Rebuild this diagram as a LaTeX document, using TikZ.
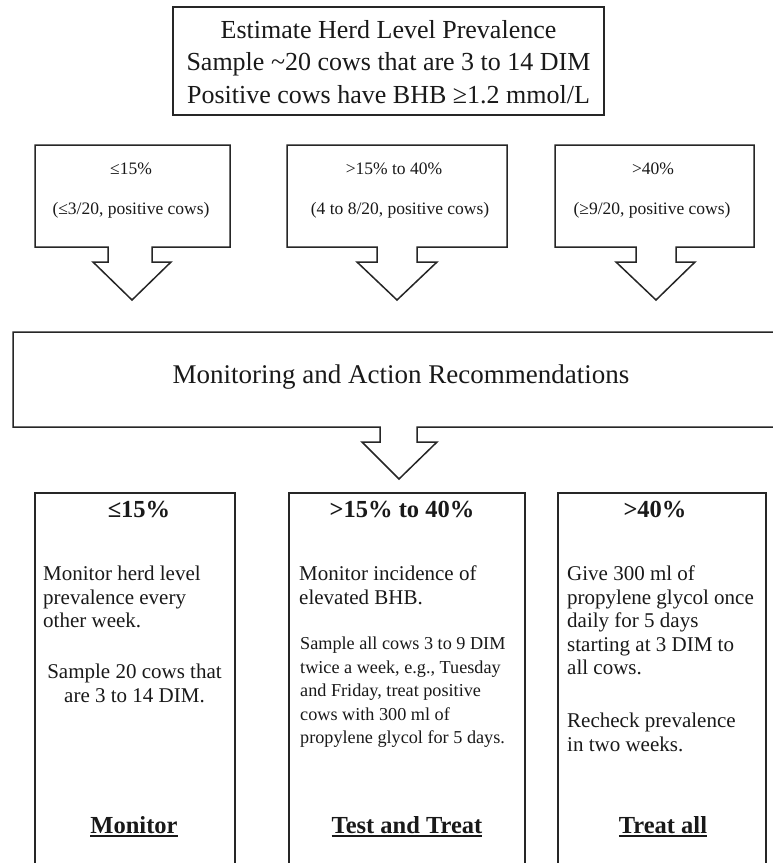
\documentclass[tikz,border=0pt]{standalone}
\usepackage{fontspec}
\setmainfont{Liberation Serif}
\newcommand\myul[1]{\setbox0\hbox{#1}\rlap{\rule[-3.5pt]{\wd0}{1.8pt}}\box0}
\begin{document}
\begin{tikzpicture}[x=1pt,y=-1pt,
  shp/.style={draw=black!85, line width=1.5pt, line join=miter},
  txt/.style={inner sep=0pt, text=black!90},
  topfont/.style={font=\fontsize{26}{32.5}\selectfont},
  callfont/.style={font=\fontsize{17.5}{21}\selectfont},
  midfont/.style={font=\fontsize{27}{32}\selectfont},
  headfont/.style={font=\fontsize{24.5}{28}\selectfont\bfseries},
  bodyfont/.style={font=\fontsize{21}{23.4}\selectfont},
  smallfont/.style={font=\fontsize{18.2}{23.5}\selectfont}]
\useasboundingbox (0,0) rectangle (773,863);
\clip (0,0) rectangle (773,863);
\fill[white] (0,0) rectangle (773,863);

% top box
\draw[shp] (173,7) rectangle (604,115);
\node[txt,topfont,align=center] (top) at (388.5,62) {Estimate Herd Level Prevalence\\Sample \textasciitilde20 cows that are 3 to 14 DIM\\Positive cows have BHB ≥1.2 mmol/L};

% callouts
\draw[shp] (35,145) -- (230,145) -- (230,247) -- (152,247) -- (152,262) -- (171,262) -- (132,300) -- (93,262) -- (108,262) -- (108,247) -- (35,247) -- cycle;
\draw[shp] (287,145) -- (507,145) -- (507,247) -- (417,247) -- (417,262) -- (437,262) -- (397,300) -- (357,262) -- (377,262) -- (377,247) -- (287,247) -- cycle;
\draw[shp] (555,145) -- (754,145) -- (754,247) -- (676,247) -- (676,262) -- (695,262) -- (656,300) -- (616,262) -- (636,262) -- (636,247) -- (555,247) -- cycle;
\node[txt,callfont] (c1a) at (131,169) {≤15\%};
\node[txt,callfont] (c1b) at (131,210) {(≤3/20, positive cows)};
\node[txt,callfont] (c2a) at (394,169) {>15\% to 40\%};
\node[txt,callfont] (c2b) at (400,210) {(4 to 8/20, positive cows)};
\node[txt,callfont] (c3a) at (653,169) {>40\%};
\node[txt,callfont] (c3b) at (652,210) {(≥9/20, positive cows)};

% monitoring box
\draw[shp] (13,332) -- (790,332) -- (790,427) -- (417,427) -- (417,442) -- (437,442) -- (399,479) -- (362,442) -- (380,442) -- (380,427) -- (13,427) -- cycle;
\node[txt,midfont] (mon) at (401,377) {Monitoring and Action Recommendations};

% bottom boxes
\draw[shp] (35,880) -- (35,493) -- (235,493) -- (235,880);
\draw[shp] (289,880) -- (289,493) -- (525,493) -- (525,880);
\draw[shp] (558,880) -- (558,493) -- (766,493) -- (766,880);

\node[txt,headfont] (h1) at (139,510) {≤15\%};
\node[txt,headfont] (h2) at (402,510) {>15\% to 40\%};
\node[txt,headfont] (h3) at (655,510) {>40\%};

\node[txt,bodyfont,align=left,anchor=north west] (b1) at (43,566) {Monitor herd level\\prevalence every\\other week.};
\node[txt,bodyfont,align=center,anchor=north] (b1s) at (134.5,664) {Sample 20 cows that\\are 3 to 14 DIM.};

\node[txt,bodyfont,align=left,anchor=north west] (b2) at (299,566) {Monitor incidence of\\elevated BHB.};
\node[txt,smallfont,align=left,anchor=north west] (b2s) at (300,637) {Sample all cows 3 to 9 DIM\\twice a week, e.g., Tuesday\\and Friday, treat positive\\cows with 300 ml of\\propylene glycol for 5 days.};

\node[txt,bodyfont,align=left,anchor=north west] (b3) at (567,566) {Give 300 ml of\\propylene glycol once\\daily for 5 days\\starting at 3 DIM to\\all cows.};
\node[txt,bodyfont,align=left,anchor=north west] (b3s) at (567,713) {Recheck prevalence\\in two weeks.};

\node[txt,headfont] (l1) at (134,827) {\myul{Monitor}};
\node[txt,headfont] (l2) at (407,827) {\myul{Test and Treat}};
\node[txt,headfont] (l3) at (663,827) {\myul{Treat all}};
\end{tikzpicture}
\end{document}
